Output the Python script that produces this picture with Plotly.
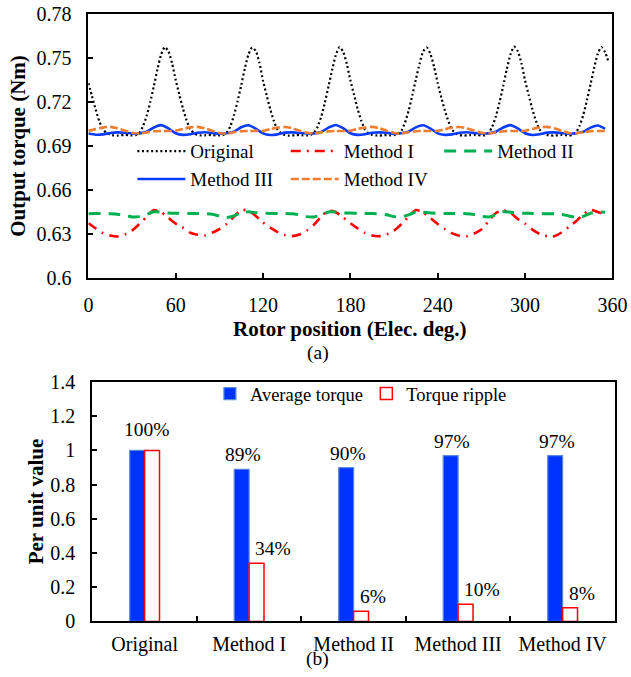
import plotly.graph_objects as go

# ---------------- data: (a) output torque vs rotor position ----------------
pos_fine = [i * 2.5 for i in range(144)]     # 0 .. 357.5 elec. deg
pos = [i * 5 for i in range(72)]             # 0 .. 355 elec. deg

original = [
    0.733, 0.724, 0.715, 0.707, 0.7015, 0.699, 0.6978, 0.6973, 0.6972, 0.6974, 0.6976, 0.6975,
    0.6973, 0.6975, 0.699, 0.7035, 0.7105, 0.720, 0.731, 0.7425, 0.7525, 0.7575, 0.7545, 0.7465,
    0.735, 0.725, 0.7155, 0.7075, 0.7015, 0.6988, 0.6977, 0.6973, 0.6974, 0.6976, 0.6975, 0.6973,
    0.6974, 0.6977, 0.6992, 0.7035, 0.711, 0.7205, 0.7315, 0.743, 0.7525, 0.7572, 0.7548, 0.7468,
    0.7345, 0.7245, 0.715, 0.707, 0.7012, 0.6987, 0.6976, 0.6972, 0.6973, 0.6975, 0.6976, 0.6974,
    0.6973, 0.6976, 0.6991, 0.7033, 0.7102, 0.7198, 0.7308, 0.7422, 0.752, 0.7575, 0.7543, 0.7462,
    0.7348, 0.725, 0.7152, 0.7072, 0.7013, 0.6988, 0.6977, 0.6973, 0.6972, 0.6974, 0.6975, 0.6974,
    0.6975, 0.6982, 0.7005, 0.706, 0.714, 0.7245, 0.7355, 0.746, 0.7545, 0.7572, 0.7528, 0.744,
    0.733, 0.723, 0.714, 0.7065, 0.701, 0.6986, 0.6976, 0.6972, 0.6973, 0.6975, 0.6976, 0.6975,
    0.6973, 0.6975, 0.699, 0.7034, 0.7104, 0.720, 0.731, 0.7425, 0.7525, 0.7578, 0.7547, 0.7466,
    0.7348, 0.7248, 0.7152, 0.7072, 0.7014, 0.6988, 0.6977, 0.6973, 0.6972, 0.6974, 0.6976, 0.6975,
    0.6973, 0.6976, 0.6993, 0.704, 0.7112, 0.7212, 0.7322, 0.7435, 0.753, 0.7575, 0.754, 0.7468,
]

method1 = [
    0.6375, 0.6340, 0.6308, 0.6292, 0.6285, 0.6298, 0.6325, 0.6370, 0.6418, 0.6465, 0.6450, 0.6412,
    0.6372, 0.6345, 0.6310, 0.6297, 0.6292, 0.6310, 0.6335, 0.6370, 0.6420, 0.6465, 0.6460, 0.6425,
    0.6380, 0.6345, 0.6315, 0.6295, 0.6287, 0.6298, 0.6325, 0.6365, 0.6420, 0.6463, 0.6450, 0.6415,
    0.6375, 0.6340, 0.6310, 0.6292, 0.6287, 0.6300, 0.6325, 0.6368, 0.6420, 0.6465, 0.6448, 0.6410,
    0.6370, 0.6335, 0.6306, 0.6290, 0.6286, 0.6305, 0.6332, 0.6390, 0.6445, 0.6463, 0.6445, 0.6405,
    0.6372, 0.6332, 0.6303, 0.6288, 0.6286, 0.6312, 0.6350, 0.6388, 0.6435, 0.6466, 0.6452, 0.6435,
]

method2 = [
    0.6440, 0.6441, 0.6441, 0.6440, 0.6437, 0.6430, 0.6418, 0.6420, 0.6435, 0.6453, 0.6450, 0.6445,
    0.6443, 0.6442, 0.6442, 0.6441, 0.6440, 0.6436, 0.6425, 0.6414, 0.6425, 0.6448, 0.6453, 0.6447,
    0.6443, 0.6442, 0.6442, 0.6441, 0.6439, 0.6432, 0.6420, 0.6418, 0.6432, 0.6452, 0.6451, 0.6446,
    0.6444, 0.6443, 0.6442, 0.6441, 0.6439, 0.6433, 0.6420, 0.6417, 0.6432, 0.6452, 0.6450, 0.6445,
    0.6443, 0.6442, 0.6442, 0.6441, 0.6440, 0.6434, 0.6422, 0.6418, 0.6433, 0.6453, 0.6450, 0.6445,
    0.6443, 0.6442, 0.6441, 0.6440, 0.6439, 0.6435, 0.6425, 0.6416, 0.6422, 0.6443, 0.6452, 0.6450,
]

method3 = [
    0.6986, 0.6978, 0.6980, 0.6990, 0.6994, 0.6991, 0.6986, 0.6987, 0.6998, 0.7027, 0.7043, 0.7021,
    0.6988, 0.6977, 0.6981, 0.6991, 0.6995, 0.6990, 0.6985, 0.6988, 0.6999, 0.7029, 0.7042, 0.7019,
    0.6987, 0.6976, 0.6980, 0.6992, 0.6994, 0.6990, 0.6986, 0.6987, 0.6997, 0.7026, 0.7044, 0.7022,
    0.6988, 0.6977, 0.6981, 0.6991, 0.6994, 0.6991, 0.6985, 0.6988, 0.6999, 0.7028, 0.7042, 0.7020,
    0.6987, 0.6977, 0.6980, 0.6991, 0.6995, 0.6990, 0.6986, 0.6987, 0.6998, 0.7027, 0.7043, 0.7021,
    0.6988, 0.6976, 0.6981, 0.6992, 0.6994, 0.6990, 0.6985, 0.6988, 0.6998, 0.7026, 0.7041, 0.7018,
]

method4 = [
    0.7004, 0.7016, 0.7027, 0.7031, 0.7022, 0.7006, 0.6991, 0.6986, 0.6994, 0.7001, 0.7003, 0.7003,
    0.7005, 0.7017, 0.7028, 0.7031, 0.7021, 0.7005, 0.6990, 0.6986, 0.6995, 0.7002, 0.7003, 0.7004,
    0.7004, 0.7016, 0.7026, 0.7030, 0.7022, 0.7006, 0.6991, 0.6987, 0.6994, 0.7001, 0.7003, 0.7003,
    0.7005, 0.7017, 0.7027, 0.7031, 0.7022, 0.7005, 0.6990, 0.6986, 0.6995, 0.7002, 0.7004, 0.7003,
    0.7004, 0.7016, 0.7027, 0.7030, 0.7021, 0.7006, 0.6991, 0.6986, 0.6994, 0.7001, 0.7003, 0.7003,
    0.7005, 0.7017, 0.7028, 0.7031, 0.7022, 0.7005, 0.6990, 0.6987, 0.6995, 0.7002, 0.7003, 0.7003,
]

torque_ticks = [0.6, 0.63, 0.66, 0.69, 0.72, 0.75, 0.78]
torque_ticktext = ["0.6", "0.63", "0.66", "0.69", "0.72", "0.75", "0.78"]
pos_ticks = [0, 60, 120, 180, 240, 300, 360]

# ---------------- data: (b) per unit comparison ----------------
categories = ["Original", "Method I", "Method II", "Method III", "Method IV"]
avg_torque = [1.00, 0.89, 0.90, 0.97, 0.97]
torque_ripple = [1.00, 0.34, 0.06, 0.10, 0.08]
pu_ticks = [0, 0.2, 0.4, 0.6, 0.8, 1.0, 1.2, 1.4]
pu_ticktext = ["0", "0.2", "0.4", "0.6", "0.8", "1", "1.2", "1.4"]

# ---------------- figure geometry ----------------
W, H = 631, 677
FONT = "Liberation Serif, Times New Roman, serif"
SX, OX = 0.972, 4.3      # page-to-picture mapping (measured)
SY, OY = 0.970, 9.0


def fx(x):
    return ((x - OX) / SX) / W


def fy(y):
    return 1 - ((y - OY) / SY) / H


fig = go.Figure()

line_specs = [
    ("Original", pos_fine, original, dict(color="black", width=2.2, dash="2px,2.6px"), "legend", 137, 152),
    ("Method I", pos, method1, dict(color="#ff0000", width=2.6, dash="10px,6px,2px,6px"), "legend3", 291, 152),
    ("Method II", pos, method2, dict(color="#00b050", width=3, dash="12px,8px"), "legend4", 445, 152),
    ("Method III", pos, method3, dict(color="#0a3cff", width=2.6), "legend5", 137, 180),
    ("Method IV", pos, method4, dict(color="#ed7d31", width=2.6, dash="8px,3px"), "legend6", 291, 180),
]
legend_layouts = {}
for name, xs, ys, ln, lg, lx, ly in line_specs:
    fig.add_trace(go.Scatter(
        x=xs, y=ys, name=name, mode="lines", line=dict(shape="spline", smoothing=0.6, **ln),
        xaxis="x", yaxis="y", legend=lg,
    ))
    legend_layouts[lg] = dict(x=fx(lx) - 5 / W, y=fy(ly) + 2.5 / H, xanchor="left", yanchor="middle",
                              orientation="h", itemwidth=48, bgcolor="rgba(0,0,0,0)",
                              font=dict(family=FONT, size=19, color="black"))

fig.add_trace(go.Bar(
    x=categories, y=avg_torque, name="Average torque",
    marker=dict(color="#0033ff", line=dict(color="#5a8ad8", width=1.2)),
    xaxis="x2", yaxis="y2", legend="legend2",
))
fig.add_trace(go.Bar(
    x=categories, y=torque_ripple, name="Torque ripple",
    marker=dict(color="white", line=dict(color="#ff0000", width=1.5)),
    xaxis="x2", yaxis="y2", legend="legend7",
))
legend_layouts["legend2"] = dict(x=fx(210), y=fy(393), xanchor="left", yanchor="middle",
                                 orientation="h", bgcolor="rgba(0,0,0,0)",
                                 font=dict(family=FONT, size=18.5, color="black"))
legend_layouts["legend7"] = dict(x=fx(367), y=fy(393), xanchor="left", yanchor="middle",
                                 orientation="h", bgcolor="rgba(0,0,0,0)",
                                 font=dict(family=FONT, size=18.5, color="black"))

# bar value labels
label_font = dict(family=FONT, size=19.5, color="black")
annotations = []
for cat, a, r in zip(categories, avg_torque, torque_ripple):
    if abs(a - r) < 1e-9:
        annotations.append(dict(x=cat, y=a, xref="x2", yref="y2", text=f"{a*100:.0f}%",
                                showarrow=False, xanchor="center", yanchor="bottom",
                                xshift=2, yshift=8, font=label_font))
    else:
        annotations.append(dict(x=cat, y=a, xref="x2", yref="y2", text=f"{a*100:.0f}%",
                                showarrow=False, xanchor="center", yanchor="bottom",
                                xshift=-6, yshift=2, font=label_font))
        annotations.append(dict(x=cat, y=r, xref="x2", yref="y2", text=f"{r*100:.0f}%",
                                showarrow=False, xanchor="left", yanchor="bottom",
                                xshift=4, yshift=2, font=label_font))

# titles and captions
title_font = dict(family=FONT, size=21, color="black", weight="bold")
annotations += [
    dict(x=fx(18), y=fy(144.5), xref="paper", yref="paper", text="Output torque (Nm)",
         textangle=-90, showarrow=False, xanchor="center", yanchor="middle", font=title_font),
    dict(x=fx(351), y=fy(328), xref="paper", yref="paper", text="Rotor position (Elec. deg.)",
         showarrow=False, xanchor="center", yanchor="middle", font=title_font),
    dict(x=fx(318), y=fy(352), xref="paper", yref="paper", text="(a)",
         showarrow=False, xanchor="center", yanchor="middle", font=label_font),
    dict(x=fx(35), y=fy(501), xref="paper", yref="paper", text="Per unit value",
         textangle=-90, showarrow=False, xanchor="center", yanchor="middle", font=title_font),
    dict(x=fx(318), y=fy(659), xref="paper", yref="paper", text="(b)",
         showarrow=False, xanchor="center", yanchor="middle", font=label_font),
]

axis_common = dict(showline=True, linewidth=2, linecolor="black", mirror=True,
                   showgrid=False, zeroline=False, ticks="inside", ticklen=5,
                   tickwidth=1.5, tickcolor="black", ticklabeloverflow="allow",
                   tickfont=dict(family=FONT, size=20, color="black"))

fig.update_layout(
    width=W, height=H,
    margin=dict(l=0, r=0, t=0, b=0),
    paper_bgcolor="white", plot_bgcolor="white",
    font=dict(family=FONT, color="black"),
    showlegend=True,
    barmode="group", bargap=0.715, bargroupgap=0,
    xaxis=dict(domain=[fx(88), fx(614)], range=[0, 360], tickvals=pos_ticks,
               anchor="y", ticklabelstandoff=8, **axis_common),
    yaxis=dict(domain=[fy(277), fy(12)], range=[0.6, 0.78], tickvals=torque_ticks,
               ticktext=torque_ticktext, anchor="x", ticklabelstandoff=11, **axis_common),
    xaxis2=dict(domain=[fx(92), fx(616.5)], type="category", anchor="y2",
                tickson="boundaries", ticklabelstandoff=4, **axis_common),
    yaxis2=dict(domain=[fy(621), fy(381)], range=[0, 1.4], tickvals=pu_ticks,
                ticktext=pu_ticktext, anchor="x2", ticklabelstandoff=11, **axis_common),
    annotations=annotations,
    **legend_layouts,
)

fig.write_html("out.html")
